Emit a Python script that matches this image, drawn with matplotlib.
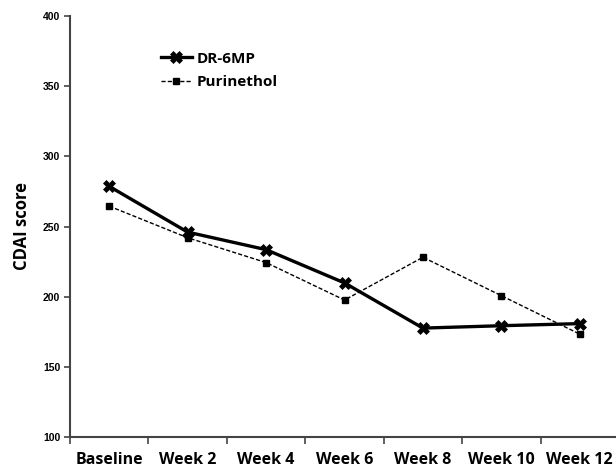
import matplotlib
matplotlib.use("Agg")
import matplotlib.pyplot as plt
import numpy as np

categories = ["Baseline", "Week 2", "Week 4", "Week 6", "Week 8", "Week 10", "Week 12"]
dr6mp = [278.6, 246.0, 233.5, 209.8, 177.6, 179.3, 180.8]
purinethol = [264.5, 242.0, 224.3, 197.6, 228.1, 200.7, 173.3]
yticks = [100, 150, 200, 250, 300, 350, 400]

W, H = 616, 469
fig = plt.figure(figsize=(W / 100, H / 100), dpi=100)
ax = fig.add_axes([70 / W, 32 / H, 549 / W, 421 / H])

x = np.arange(len(categories))
ax.plot(x, dr6mp, color="black", lw=2.4, marker="X", ms=8,
        markeredgewidth=0.5, label="DR-6MP", zorder=3)
ax.plot(x, purinethol, color="black", lw=1.0, ls=(0, (3, 1.5)), marker="s",
        ms=4.5, label="Purinethol", zorder=2)

ax.set_xlim(-0.5, len(categories) - 0.5)
ax.set_ylim(100, 400)

for s in ["top", "right"]:
    ax.spines[s].set_visible(False)
for s in ["left", "bottom"]:
    ax.spines[s].set_color("#444444")
    ax.spines[s].set_linewidth(1.5)

ax.set_yticks(yticks)
ax.set_yticklabels([str(v) for v in yticks], fontsize=7.5, fontweight="bold",
                   family="Liberation Sans")
ax.tick_params(axis="y", direction="out", length=4, width=1.2, color="#444444", pad=3)

ax.set_xticks(x)
ax.set_xticklabels(categories, fontsize=11.5, fontweight="bold", family="Open Sans")
ax.tick_params(axis="x", which="major", length=0, pad=11)
ax.set_xticks(np.arange(-0.5, len(categories) + 0.5, 1), minor=True)
ax.tick_params(axis="x", which="minor", direction="out", length=5, width=1.2,
               color="#444444")

ax.set_ylabel("CDAI score", fontsize=12, fontweight="bold", family="Open Sans",
              labelpad=9)

leg = ax.legend(loc="upper left", bbox_to_anchor=(0.155, 0.93), frameon=False,
                prop={"family": "Open Sans", "weight": "bold", "size": 11},
                handlelength=2.0, handletextpad=0.3, labelspacing=0.62,
                borderaxespad=0)

fig.savefig("out.png", dpi=100)
